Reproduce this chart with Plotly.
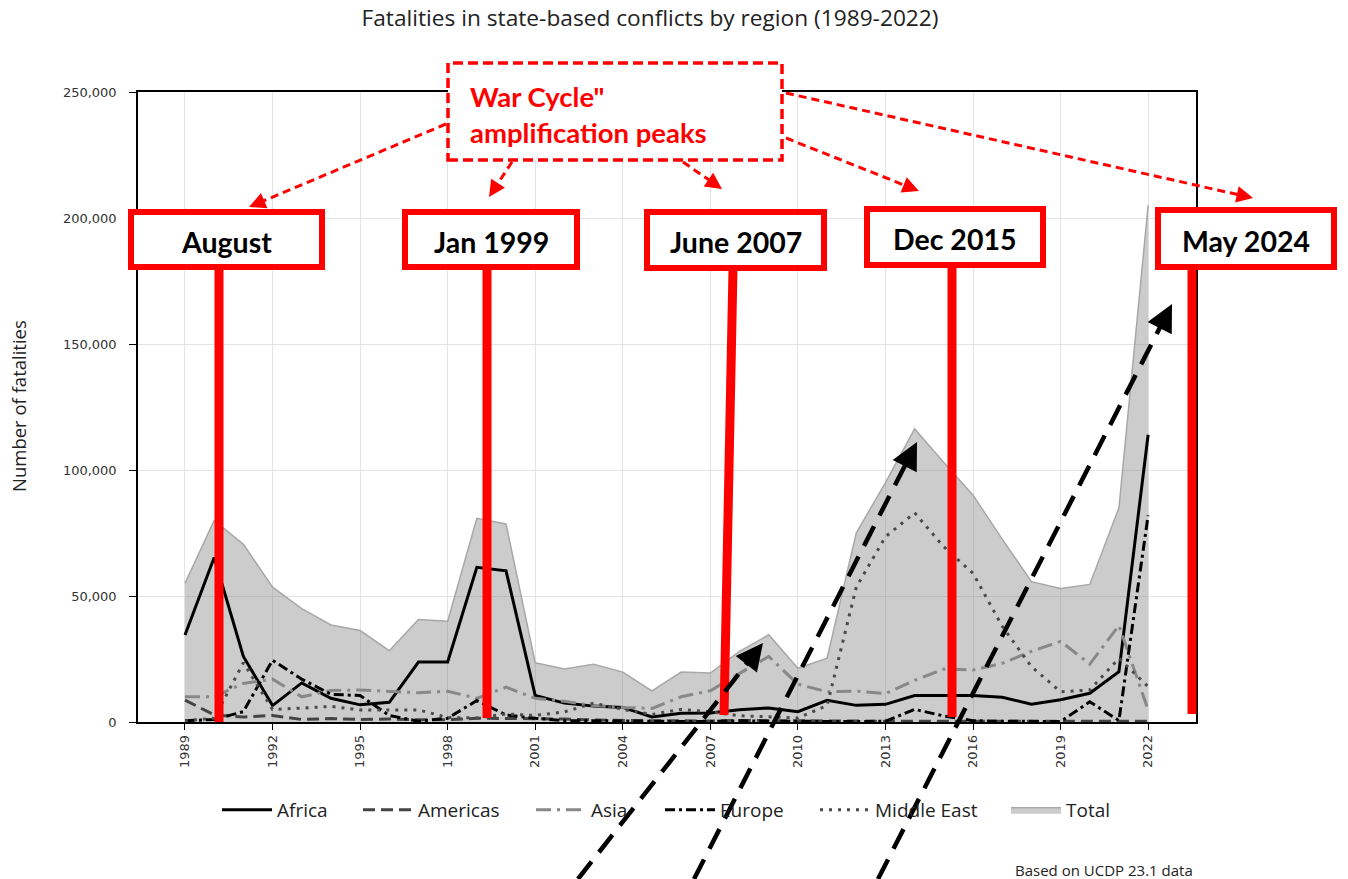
import plotly.graph_objects as go

# ---------------- data ----------------
years = list(range(1989, 2023))
africa = [34500, 65300, 26000, 6500, 15500, 9400, 6800, 7800, 23800, 23800,
          61400, 60000, 10500, 7500, 6300, 5800, 2000, 3500, 3600, 4900,
          5600, 4100, 8600, 6600, 7000, 10500, 10500, 10500, 9800, 7100,
          8800, 11400, 20000, 114000]
americas = [8700, 2800, 2000, 2600, 1000, 1400, 1000, 1200, 900, 900,
            1500, 1400, 1400, 1200, 800, 600, 500, 500, 400, 600,
            500, 400, 400, 400, 300, 300, 300, 300, 300, 300,
            300, 300, 300, 300]
asia = [10000, 10000, 15300, 17000, 10000, 12500, 12700, 12000, 11600, 12200,
        9400, 13800, 9400, 8200, 6500, 5800, 5400, 10000, 12400, 19300,
        26000, 15000, 12000, 12200, 11300, 16500, 21000, 20600, 23300, 28000,
        32000, 23000, 38300, 4800]
europe = [500, 1000, 4100, 24500, 17000, 11000, 10500, 2600, 300, 1500,
          8500, 2800, 1500, 500, 500, 300, 200, 200, 200, 500,
          300, 200, 200, 200, 300, 5000, 2400, 500, 300, 200,
          200, 8000, 600, 82000]
middle_east = [500, 1500, 23500, 5000, 5500, 6200, 4800, 4800, 4800, 1800,
               1600, 3200, 2600, 4000, 7500, 5000, 3000, 5000, 4000, 2500,
               2200, 1600, 6500, 53500, 73500, 83000, 69500, 59000, 38000, 22000,
               12000, 12700, 25300, 14000]
total = [55000, 80000, 70500, 53500, 45000, 38500, 36300, 28300, 40700, 40000,
         80800, 78600, 23500, 21000, 22900, 19800, 12300, 19800, 19400, 28000,
         34600, 21300, 25300, 75000, 95000, 116300, 103000, 90000, 72600, 55700,
         53000, 54600, 85000, 205000]

series_names = ["Africa", "Americas", "Asia", "Europe", "Middle East", "Total"]
peak_labels = ["August", "Jan 1999", "June 2007", "Dec 2015", "May 2024"]
callout_text = 'War Cycle"<br>amplification peaks'
title_text = "Fatalities in state-based conflicts by region (1989-2022)"
y_title = "Number of fatalities"
source_text = "Based on UCDP 23.1 data"

# ---------------- geometry helpers (pixel -> paper) ----------------
W, H = 1348, 879
L, R, T, B = 138, 152, 92, 157
PW, PH = W - L - R, H - T - B


def px(x):
    return (x - L) / PW


def py(y):
    return (H - B - y) / PH


fig = go.Figure()

fig.add_trace(go.Scatter(
    x=years, y=total, name=series_names[5], mode="lines", fill="tozeroy",
    fillcolor="rgba(128,128,128,0.40)", line=dict(color="#a8a8a8", width=1.5),
    legend="legend6"))

styles = [
    (series_names[0], africa, "#000000", "solid", "legend"),
    (series_names[1], americas, "#444444", "12px,6px", "legend2"),
    (series_names[2], asia, "#888888", "15px,6px,3px,6px", "legend3"),
    (series_names[3], europe, "#000000", "10px,4px,3px,4px", "legend4"),
    (series_names[4], middle_east, "#4a4a4a", "3px,6px", "legend5"),
]
for name, vals, col, dash, lg in styles:
    fig.add_trace(go.Scatter(x=years, y=vals, name=name, mode="lines",
                             line=dict(color=col, width=3, dash=dash),
                             legend=lg))

# legends, one per item, placed like the reference
text_starts = [277, 418, 591, 720, 875, 1066]
legend_font = dict(family="Open Sans", size=19, color="#222")
leg_layout = {}
for i, xs in enumerate(text_starts):
    key = "legend" if i == 0 else f"legend{i+1}"
    leg_layout[key] = dict(x=px(xs - 60), xanchor="left", y=py(810),
                           yanchor="middle", orientation="h", itemwidth=50,
                           bgcolor="rgba(0,0,0,0)", font=legend_font)

fig.update_layout(
    width=W, height=H,
    margin=dict(l=L, r=R, t=T, b=B, autoexpand=False),
    paper_bgcolor="white", plot_bgcolor="white",
    showlegend=True,
    title=dict(text=title_text, x=650 / W, xanchor="center",
               y=1 - 18 / H, yanchor="middle",
               font=dict(family="Open Sans", size=22.7, color="#222")),
    xaxis=dict(range=[1987.39, 2023.64], tickmode="linear", tick0=1989, dtick=3,
               tickangle=-90, showgrid=True, gridcolor="#e3e3e3", gridwidth=1,
               showline=True, linecolor="black", linewidth=1.5, mirror=True,
               ticks="outside", ticklen=6, tickcolor="black",
               tickfont=dict(family="DejaVu Sans", size=13, color="#333"),
               zeroline=False, automargin=False),
    yaxis=dict(range=[0, 250000], tickmode="linear", tick0=0, dtick=50000,
               tickformat=",", showgrid=True, gridcolor="#e3e3e3", gridwidth=1,
               showline=True, linecolor="black", linewidth=1.5, mirror=True,
               ticks="outside", ticklen=7, tickcolor="black",
               ticklabelstandoff=10,
               tickfont=dict(family="DejaVu Sans", size=13, color="#333"),
               zeroline=False, automargin=False),
    **leg_layout,
)

shapes = []
annotations = []

# y-axis title and source note
annotations.append(dict(text=y_title, x=px(18), y=py(406), xref="paper", yref="paper",
                        textangle=-90, showarrow=False, xanchor="center",
                        yanchor="middle",
                        font=dict(family="Open Sans", size=18.5, color="#222")))
annotations.append(dict(text=source_text, x=px(1195), y=py(870), xref="paper",
                        yref="paper", showarrow=False, xanchor="right",
                        yanchor="middle",
                        font=dict(family="Open Sans", size=15, color="#222")))

# black dashed arrows
black_arrows = [((578, 879), (763, 643)), ((694, 879), (917, 442)),
                ((878, 879), (1172, 304))]
# red dashed arrows from the callout box
red_arrows = [((446, 124), (249, 207)), ((512, 162), (489, 197)),
              ((683, 162), (722, 189)), ((786, 138), (919, 191)),
              ((786, 93), (1253, 198))]


def arrow(start, tip, color, width, dash, head_len, arrowsize):
    (x0, y0), (x1, y1) = start, tip
    dx, dy = x1 - x0, y1 - y0
    n = (dx * dx + dy * dy) ** 0.5
    ux, uy = dx / n, dy / n
    # dashed shaft ending just under the head
    ex, ey = x1 - ux * head_len * 0.6, y1 - uy * head_len * 0.6
    shapes.append(dict(type="line", xref="paper", yref="paper",
                       x0=px(x0), y0=py(y0), x1=px(ex), y1=py(ey),
                       line=dict(color=color, width=width, dash=dash)))
    annotations.append(dict(x=px(x1), y=py(y1), xref="paper", yref="paper",
                            ax=-ux * head_len, ay=-uy * head_len,
                            axref="pixel", ayref="pixel", text="",
                            showarrow=True, arrowhead=2, arrowsize=arrowsize,
                            arrowwidth=width, arrowcolor=color))


for s, t in red_arrows:
    arrow(s, t, "#ff0000", 3, "8px,5px", 14, 1.1)

# callout box
shapes.append(dict(type="rect", xref="paper", yref="paper",
                   x0=px(448), x1=px(782), y0=py(160), y1=py(63),
                   fillcolor="white",
                   line=dict(color="#ff0000", width=3.5, dash="10px,5px")))
annotations.append(dict(text="<b>" + callout_text + "</b>", x=px(468), y=py(115),
                        xref="paper", yref="paper", showarrow=False,
                        xanchor="left", yanchor="middle", align="left",
                        font=dict(family="Lato", size=27.5, color="#ff0000")))

# red peak markers: vertical bars and labelled boxes
bars = [((219, 269), (219, 722)), ((487, 269), (487, 718)),
        ((733, 269), (724, 715)), ((952, 268), (952, 717)),
        ((1192, 269), (1192, 714))]
for (x0, y0), (x1, y1) in bars:
    shapes.append(dict(type="line", xref="paper", yref="paper",
                       x0=px(x0), y0=py(y0), x1=px(x1), y1=py(y1),
                       line=dict(color="#ff0000", width=9)))

boxes = [(128, 325, 209, 270), (402, 580, 209, 270), (644, 827, 209, 271),
         (864, 1046, 206, 268), (1155, 1337, 207, 270)]
for (bx0, bx1, by0, by1), lab in zip(boxes, peak_labels):
    shapes.append(dict(type="rect", xref="paper", yref="paper",
                       x0=px(bx0 + 3), x1=px(bx1 - 3), y0=py(by1 - 3), y1=py(by0 + 3),
                       fillcolor="white", line=dict(color="#ff0000", width=6)))
    annotations.append(dict(text="<b>" + lab + "</b>", x=px((bx0 + bx1) / 2),
                            y=py((by0 + by1) / 2 + 2), xref="paper", yref="paper",
                            showarrow=False, xanchor="center", yanchor="middle",
                            font=dict(family="Lato", size=28.5, color="black")))

for s, t in black_arrows:
    arrow(s, t, "black", 4.5, "22px,12px", 24, 1.2)

fig.update_layout(shapes=shapes, annotations=annotations)

fig.write_html("out.html", config={"displayModeBar": False},
               post_script="document.body.style.margin='0';")
